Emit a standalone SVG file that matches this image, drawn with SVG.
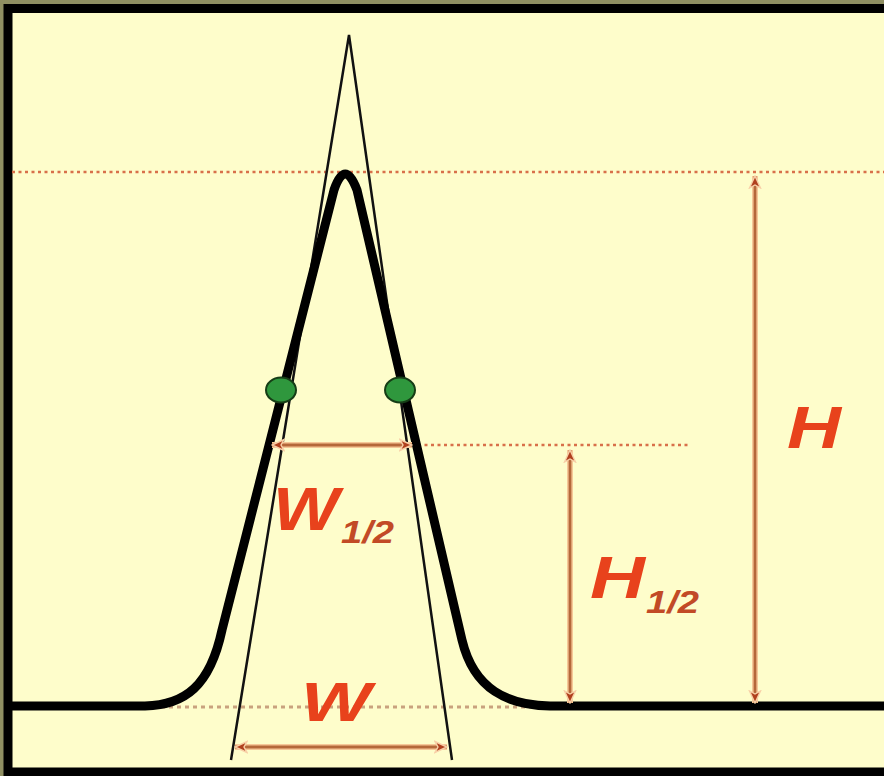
<svg xmlns="http://www.w3.org/2000/svg" width="884" height="776" viewBox="0 0 884 776">
  <style>
    .lbl { font-family: "Liberation Sans", Arial, sans-serif; font-weight: bold; font-style: italic; fill: #e8421c; }
    .sub { font-family: "Liberation Sans", Arial, sans-serif; font-weight: bold; font-style: italic; fill: #c24a26; }
    .glow { stroke: #f6c898; stroke-width: 6; fill: none; }
    .dim { stroke: #b5683a; stroke-width: 2.8; fill: none; marker-start: url(#ah); marker-end: url(#ah); }
    .dotred { stroke: #d8704a; stroke-width: 2.4; stroke-dasharray: 3 3.5; fill: none; }
    .dottan { stroke: #c9a27e; stroke-width: 3; stroke-dasharray: 4 4; fill: none; }
  </style>
  <defs>
    <marker id="ah" viewBox="0 0 14 14" refX="13" refY="7" markerWidth="14" markerHeight="14" markerUnits="userSpaceOnUse" orient="auto-start-reverse">
      <path d="M1,1.5 L13,7 L1,12.5 L4,7 Z" fill="#b0401e" stroke="#f8d0a8" stroke-width="1.4"/>
    </marker>
  </defs>

  <g id="background">
    <rect x="0" y="0" width="884" height="776" fill="#8f8f62"/>
    <rect x="4" y="4" width="880" height="772" fill="#fefdcb"/>
    <path d="M884 8.5 H8 V772 H884" fill="none" stroke="#000" stroke-width="9"/>
  </g>

  <g id="reference-lines">
    <line class="dotred" x1="12" y1="172" x2="884" y2="172"/>
    <line class="dotred" x1="418" y1="445" x2="690" y2="445"/>
    <line class="dottan" x1="145" y1="707" x2="565" y2="707"/>
  </g>

  <g id="triangle">
    <path d="M231 760 L349 35 L452 760" fill="none" stroke="#111" stroke-width="2.5" stroke-linejoin="miter"/>
  </g>

  <g id="peak">
    <path d="M12 706 L145 706 C185 705 210 686 222 630 L334 190 Q345 158 357 190 L462 640 C474 690 508 705 550 706 L884 706" fill="none" stroke="#000" stroke-width="9" stroke-linejoin="round"/>
  </g>

  <g id="half-points">
    <ellipse cx="281" cy="390" rx="15" ry="12.5" fill="#2f973d" stroke="#163d16" stroke-width="2"/>
    <ellipse cx="400" cy="390" rx="15" ry="12.5" fill="#2f973d" stroke="#163d16" stroke-width="2"/>
  </g>

  <g id="connectors">
    <line class="glow" x1="272" y1="445" x2="412" y2="445"/>
    <line class="dim" x1="272" y1="445" x2="412" y2="445"/>
    <line class="glow" x1="570" y1="450" x2="570" y2="703"/>
    <line class="dim" x1="570" y1="450" x2="570" y2="703"/>
    <line class="glow" x1="755" y1="176" x2="755" y2="703"/>
    <line class="dim" x1="755" y1="176" x2="755" y2="703"/>
    <line class="glow" x1="235" y1="747" x2="447" y2="747"/>
    <line class="dim" x1="235" y1="747" x2="447" y2="747"/>
  </g>

  <g id="label-W-half">
    <text class="lbl" x="273" y="530" font-size="62" textLength="66" lengthAdjust="spacingAndGlyphs">W</text>
    <text class="sub" x="341" y="543" font-size="32" textLength="53" lengthAdjust="spacingAndGlyphs">1/2</text>
  </g>
  <g id="label-H-half">
    <text class="lbl" x="590" y="598" font-size="60" textLength="55" lengthAdjust="spacingAndGlyphs">H</text>
    <text class="sub" x="646" y="613" font-size="31" textLength="53" lengthAdjust="spacingAndGlyphs">1/2</text>
  </g>
  <g id="label-H">
    <text class="lbl" x="787" y="448" font-size="60" textLength="54" lengthAdjust="spacingAndGlyphs">H</text>
  </g>
  <g id="label-W">
    <text class="lbl" x="301" y="721" font-size="56" textLength="70" lengthAdjust="spacingAndGlyphs">W</text>
  </g>
</svg>
